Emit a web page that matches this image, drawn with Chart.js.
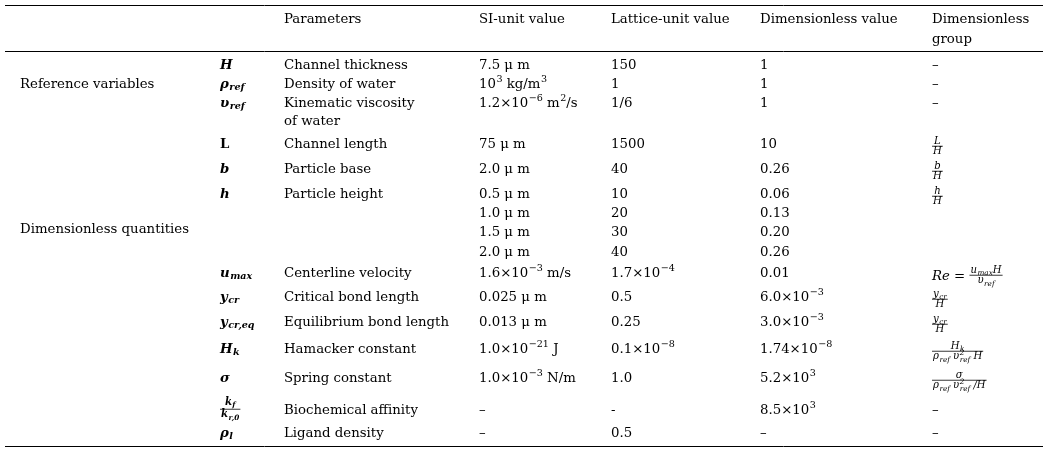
<!DOCTYPE html>
<html><head><meta charset="utf-8">
<script src="https://cdn.jsdelivr.net/npm/chart.js@4.4.1/dist/chart.umd.min.js"></script>
<style>html,body{margin:0;padding:0;background:#fff}#wrap{width:1054px;height:455px;position:relative}</style>
</head><body><div id="wrap"><canvas id="c"></canvas></div>
<script>
// ---------------- DATA ----------------
const groupLabels = ["Reference variables", "Dimensionless quantities"];
const headers = ["Parameters", "SI-unit value", "Lattice-unit value", "Dimensionless value", "Dimensionless\ngroup"];
const symbols = ["H", "ρ_{ref}", "υ_{ref}", "L", "b", "h", "", "", "", "u_{max}", "y_{cr}", "y_{cr,eq}", "H_{k}", "σ", "\\frac{k_{f}}{k_{r,0}}", "ρ_{l}"];
const parameters = ["Channel thickness", "Density of water", "Kinematic viscosity\nof water", "Channel length", "Particle base", "Particle height", "", "", "", "Centerline velocity", "Critical bond length", "Equilibrium bond length", "Hamacker constant", "Spring constant", "Biochemical affinity", "Ligand density"];
const siValues = ["7.5 μ m", "10^{3} kg/m^{3}", "1.2×10^{−6} m^{2}/s", "75 μ m", "2.0 μ m", "0.5 μ m", "1.0 μ m", "1.5 μ m", "2.0 μ m", "1.6×10^{−3} m/s", "0.025 μ m", "0.013 μ m", "1.0×10^{−21} J", "1.0×10^{−3} N/m", "–", "–"];
const latticeValues = ["150", "1", "1/6", "1500", "40", "10", "20", "30", "40", "1.7×10^{−4}", "0.5", "0.25", "0.1×10^{−8}", "1.0", "-", "0.5"];
const dimensionlessValues = ["1", "1", "1", "10", "0.26", "0.06", "0.13", "0.20", "0.26", "0.01", "6.0×10^{−3}", "3.0×10^{−3}", "1.74×10^{−8}", "5.2×10^{3}", "8.5×10^{3}", "–"];
const dimensionlessGroups = ["–", "–", "–", "\\frac{L}{H}", "\\frac{b}{H}", "\\frac{h}{H}", "", "", "", "Re = \\frac{u_{max}H}{υ_{ref}}", "\\frac{y_{cr}}{H}", "\\frac{y_{cr}}{H}", "\\frac{H_{k}}{ρ_{ref} υ^{2}_{ref} H}", "\\frac{σ}{ρ_{ref} υ^{2}_{ref} /H}", "–", "–"];

// ---------------- LAYOUT (positions / styles) ----------------
const FAMILY = '"DejaVu Serif", serif';
const FS = 13.3;
const INK = '#000';
const colX = { group: 20, symbol: 220, param: 284, si: 479, lattice: 611, dimless: 760, dgroup: 932 };
const headerBase = 22.5, headerLine = 20;
const rowBase = [68.5, 87.5, 106.5, 147.5, 172.5, 197.5, 216.5, 235.5, 255.5, 276.5, 300.5, 325.5, 352.5, 381.5, 413.5, 436.5];
const bodyLine = 18;
const groupBase = [87.5, 232.5];
const rules = [{ y: 5.5, x0: 5, x1: 1043 }, { y: 51.5, x0: 5, x1: 1043 }, { y: 446.5, x0: 5, x1: 1043 }];
const uprightSymbols = new Set([3]);
const groupFracShift = 3, symbolFracShift = 0;

// ---------------- rich text ----------------
function parse(s) {
  const out = []; let i = 0; let buf = '';
  const flush = () => { if (buf) { out.push({ t: 'text', s: buf }); buf = ''; } };
  const readGroup = () => {
    let depth = 0, start = i + 1;
    for (; i < s.length; i++) {
      if (s[i] === '{') depth++;
      else if (s[i] === '}') { depth--; if (depth === 0) { const g = s.slice(start, i); i++; return g; } }
    }
    return '';
  };
  while (i < s.length) {
    const ch = s[i];
    if (ch === '^' || ch === '_') { flush(); i++; const g = readGroup(); out.push({ t: ch === '^' ? 'sup' : 'sub', c: parse(g) }); }
    else if (s.startsWith('\\frac', i)) { flush(); i += 5; const n = readGroup(); const d = readGroup(); out.push({ t: 'frac', n: parse(n), d: parse(d) }); }
    else { buf += ch; i++; }
  }
  flush();
  const merged = [];
  for (const n of out) {
    const p = merged[merged.length - 1];
    if (n.t === 'sub' && p && p.t === 'sup') { p.t = 'supsub'; p.b = n.c; } else merged.push(n);
  }
  return merged;
}
const hasSub = nodes => nodes.some(n => n.t === 'sub' || n.t === 'supsub');
function fontOf(size, st) { return (st.italic ? 'italic ' : '') + (st.bold ? 'bold ' : '') + size.toFixed(2) + 'px ' + FAMILY; }
function measure(ctx, nodes, size, st) {
  let w = 0;
  for (const n of nodes) {
    if (n.t === 'text') { ctx.font = fontOf(size, st); w += ctx.measureText(n.s).width; }
    else if (n.t === 'sup' || n.t === 'sub') w += measure(ctx, n.c, size * 0.72, st) + 0.5;
    else if (n.t === 'supsub') w += Math.max(measure(ctx, n.c, size * 0.72, st), measure(ctx, n.b, size * 0.72, st)) + 0.5;
    else if (n.t === 'frac') w += Math.max(measure(ctx, n.n, size * 0.76, st), measure(ctx, n.d, size * 0.76, st)) + 2;
  }
  return w;
}
function draw(ctx, nodes, x, base, size, st) {
  for (const n of nodes) {
    if (n.t === 'text') { ctx.font = fontOf(size, st); ctx.fillText(n.s, x, base); x += ctx.measureText(n.s).width; }
    else if (n.t === 'sup') { x = draw(ctx, n.c, x + 0.5, base - size * 0.4, size * 0.72, st); }
    else if (n.t === 'sub') { x = draw(ctx, n.c, x + 0.5, base + size * 0.22, size * 0.72, st); }
    else if (n.t === 'supsub') {
      const a = draw(ctx, n.c, x + 0.5, base - size * 0.4, size * 0.72, st);
      const b = draw(ctx, n.b, x + 0.5, base + size * 0.25, size * 0.72, st);
      x = Math.max(a, b);
    }
    else if (n.t === 'frac') {
      const fs = size * 0.76;
      const wn = measure(ctx, n.n, fs, st), wd = measure(ctx, n.d, fs, st);
      const w = Math.max(wn, wd) + 2;
      const axis = base - size * 0.32;
      ctx.save(); ctx.strokeStyle = INK; ctx.lineWidth = 0.8;
      ctx.beginPath(); ctx.moveTo(x, axis); ctx.lineTo(x + w, axis); ctx.stroke(); ctx.restore();
      const numLift = fs * 0.26 + (st.bold && hasSub(n.n) ? fs * 0.18 : 0);
      draw(ctx, n.n, x + (w - wn) / 2, axis - numLift, fs, st);
      draw(ctx, n.d, x + (w - wd) / 2, axis + fs * 0.8, fs, st);
      x += w;
    }
  }
  return x;
}
function drawCell(ctx, str, x, base, lineH, st) {
  if (!str) return;
  str.split('\n').forEach((line, k) => draw(ctx, parse(line), x, base + k * lineH, FS, st));
}

// ---------------- chart ----------------
const tablePlugin = {
  id: 'tablePlugin',
  afterDraw(chart) {
    const { ctx, scales: { x, y } } = chart;
    const X = v => x.getPixelForValue(v), Y = v => y.getPixelForValue(v);
    ctx.save();
    ctx.fillStyle = INK; ctx.textBaseline = 'alphabetic'; ctx.textAlign = 'left';
    ctx.strokeStyle = '#000'; ctx.lineWidth = 1;
    rules.forEach(r => { ctx.beginPath(); ctx.moveTo(X(r.x0), Y(r.y)); ctx.lineTo(X(r.x1), Y(r.y)); ctx.stroke(); });
    const normal = { italic: false, bold: false };
    const hCols = [colX.param, colX.si, colX.lattice, colX.dimless, colX.dgroup];
    headers.forEach((h, i) => drawCell(ctx, h, X(hCols[i]), Y(headerBase), headerLine, normal));
    groupLabels.forEach((g, i) => drawCell(ctx, g, X(colX.group), Y(groupBase[i]), bodyLine, normal));
    rowBase.forEach((b, r) => {
      const by = Y(b);
      const symStyle = uprightSymbols.has(r) ? { bold: true, italic: false } : { bold: true, italic: true };
      drawCell(ctx, symbols[r], X(colX.symbol), by + (symbols[r].includes('\\frac') ? symbolFracShift : 0), bodyLine, symStyle);
      drawCell(ctx, parameters[r], X(colX.param), by, bodyLine, normal);
      drawCell(ctx, siValues[r], X(colX.si), by, bodyLine, normal);
      drawCell(ctx, latticeValues[r], X(colX.lattice), by, bodyLine, normal);
      drawCell(ctx, dimensionlessValues[r], X(colX.dimless), by, bodyLine, normal);
      const g = dimensionlessGroups[r];
      drawCell(ctx, g, X(colX.dgroup), by + (g.includes('\\frac') ? groupFracShift : 0), bodyLine, g.includes('\\frac') ? { italic: true, bold: false } : normal);
    });
    ctx.restore();
  }
};

new Chart(document.getElementById('c'), {
  type: 'scatter',
  data: { datasets: [{ data: [], pointRadius: 0 }] },
  options: {
    responsive: true, maintainAspectRatio: false, animation: false,
    layout: { padding: 0 },
    plugins: { legend: { display: false }, tooltip: { enabled: false }, title: { display: false } },
    scales: {
      x: { type: 'linear', min: 0, max: 1054, display: false },
      y: { type: 'linear', min: 0, max: 455, reverse: true, display: false }
    }
  },
  plugins: [tablePlugin]
});
</script></body></html>
